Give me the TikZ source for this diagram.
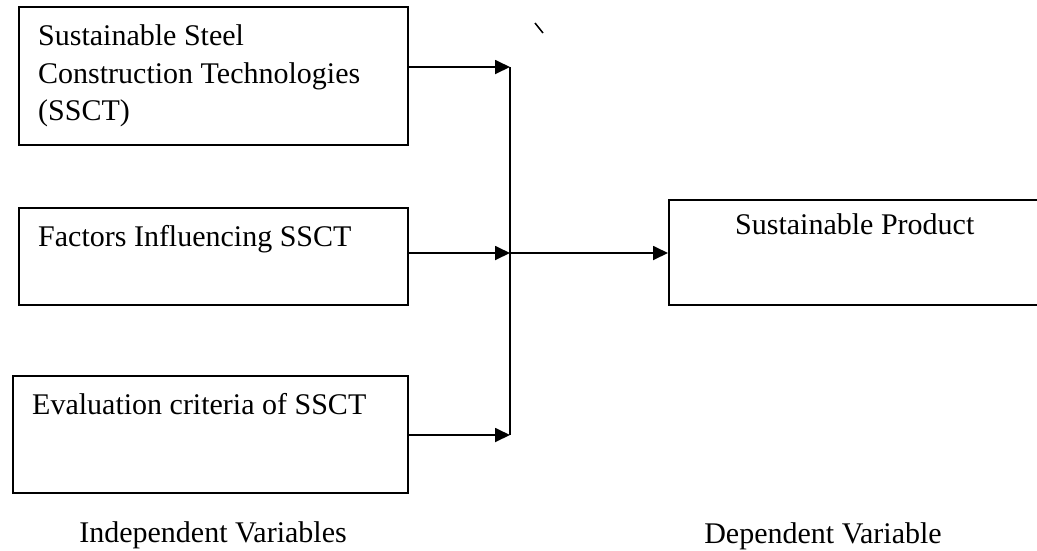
\documentclass[tikz,border=0pt]{standalone}
\usepackage{fontspec}
\setmainfont{Liberation Serif}
\usepackage{tikz}
\usetikzlibrary{arrows.meta}

\begin{document}
\begin{tikzpicture}[x=1pt, y=-1pt,
                        varbox/.style={draw, line width=1.8pt, anchor=north west, inner sep=0pt},
                        vartext/.style={anchor=base west, inner sep=0pt, align=left,
                                        font=\fontsize{30}{37.5}\selectfont},
                        conn/.style={line width=1.8pt},
                        arr/.style={conn, -{Triangle[length=15pt, width=14pt]}}]
                        \useasboundingbox (0,0) rectangle (1037,550);
                        % boxes
                        \node[varbox, minimum width=389pt, minimum height=138pt] (ssct) at (18,6) {};
                        \node[varbox, minimum width=389pt, minimum height=97pt] (factors) at (18,207) {};
                        \node[varbox, minimum width=395pt, minimum height=117pt] (criteria) at (12,375) {};
                        \node[varbox, minimum width=380pt, minimum height=105pt] (product) at (668,199) {};
                        % texts
                        \node[vartext] (ssctlbl) at (38,45) {Sustainable Steel};
                        \node[vartext] (ssctlbltwo) at (38,83) {Construction Technologies};
                        \node[vartext] (ssctlblthree) at (38,120) {(SSCT)};
                        \node[vartext] (factorslbl) at (38,246) {Factors Influencing SSCT};
                        \node[vartext] (criterialbl) at (32,414) {Evaluation criteria of SSCT};
                        \node[vartext] (productlbl) at (735,234) {Sustainable Product};
                        \node[vartext, anchor=base] (indep) at (213,542) {Independent Variables};
                        \node[vartext, anchor=base] (dep) at (823,543) {Dependent Variable};
                        % connectors
                        \coordinate (jtop) at (510,67);
                        \coordinate (jmid) at (510,253);
                        \coordinate (jbot) at (510,435);
                        \draw[arr] (ssct.east |- jtop) -- (jtop);
                        \draw[arr] (factors.east |- jmid) -- (jmid);
                        \draw[arr] (criteria.east |- jbot) -- (jbot);
                        \draw[conn] (jtop) -- (jbot);
                        \draw[arr] (jmid) -- (product.west |- jmid);
                        \draw[line width=1.5pt] (535,23) -- (543,33);
                    \end{tikzpicture}
\end{document}
